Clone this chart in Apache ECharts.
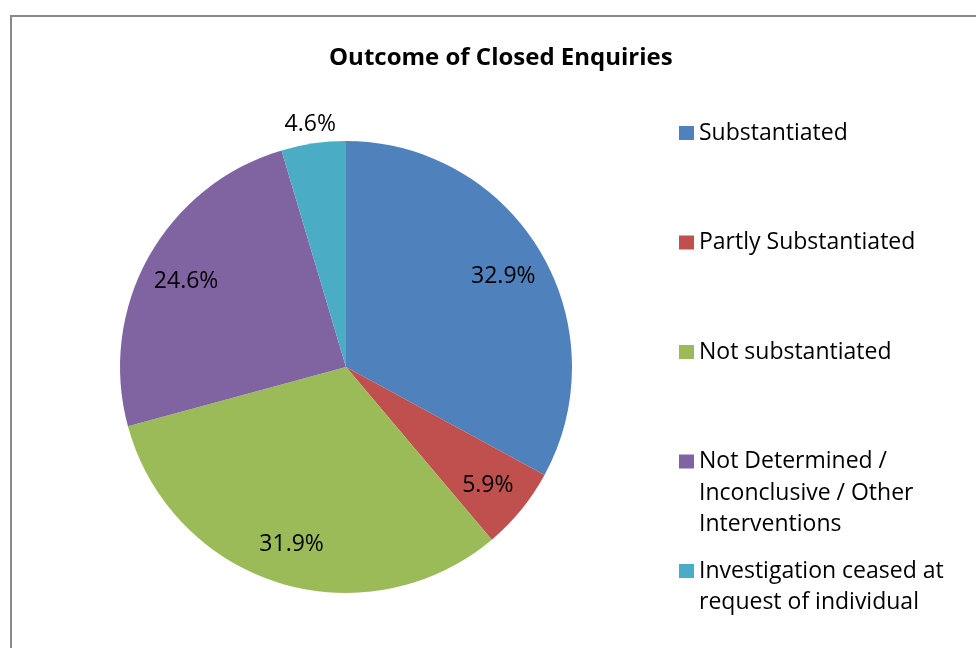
<!DOCTYPE html>
<html>
<head>
<meta charset="utf-8">
<script src="https://cdn.jsdelivr.net/npm/echarts@6/dist/echarts.min.js"></script>
<style>
html,body{margin:0;padding:0;background:#fff;}
#c{width:976px;height:648px;}
</style>
</head>
<body>
<div id="c"></div>
<script>
const titleText = 'Outcome of Closed Enquiries';
const categories = ['Substantiated', 'Partly Substantiated', 'Not substantiated', 'Not Determined / Inconclusive / Other Interventions', 'Investigation ceased at request of individual'];
const legendLines = [
  ['Substantiated'],
  ['Partly Substantiated'],
  ['Not substantiated'],
  ['Not Determined /', 'Inconclusive / Other', 'Interventions'],
  ['Investigation ceased at', 'request of individual']
];
const values = [32.9, 5.9, 31.9, 24.6, 4.6];
const colors = ['#4F81BD', '#C0504D', '#9BBB59', '#8064A2', '#4BACC6'];

const FONT = '"Open Sans", sans-serif';
const FS = 23;
const LH = 31.5;
const markerCenters = [133, 242.5, 352, 461.5, 571];

const chart = echarts.init(document.getElementById('c'), null, {renderer: 'canvas'});

const legends = categories.map((name, i) => {
  const lines = legendLines[i];
  const n = lines.length;
  const text = '\n'.repeat(n - 1) + lines.join('\n');
  const total = (2 * n - 1) * LH;
  return {
    orient: 'vertical',
    left: 679,
    top: markerCenters[i] - total / 2,
    padding: 0,
    itemWidth: 15,
    itemHeight: 14,
    icon: 'rect',
    selectedMode: false,
    data: [name],
    formatter: () => text,
    textStyle: {fontFamily: FONT, fontSize: FS, color: '#000', lineHeight: LH}
  };
});

const mainData = categories.map((name, i) => ({name, value: values[i], itemStyle: {color: colors[i]}}));
const innerLabelData = categories.map((name, i) => ({name, value: values[i], label: {show: i !== 4}}));
const outerLabelData = categories.map((name, i) => ({name, value: values[i], label: {show: i === 4}}));

const overlayBase = {
  type: 'pie',
  center: [346, 367],
  startAngle: 90,
  silent: true,
  animation: false,
  itemStyle: {color: 'rgba(0,0,0,0)'},
  emphasis: {disabled: true},
  labelLine: {show: false},
  labelLayout: {dy: 3},
  label: {position: 'inside', formatter: p => p.value.toFixed(1) + '%', fontFamily: FONT, fontSize: FS, color: '#000'}
};

chart.setOption({
  backgroundColor: '#fff',
  animation: false,
  title: {
    text: titleText,
    left: 329,
    top: 46,
    padding: 0,
    textStyle: {fontFamily: FONT, fontSize: 24, fontWeight: 'bold', color: '#000'}
  },
  legend: legends,
  graphic: [{
    type: 'rect',
    shape: {x: 11, y: 16, width: 1000, height: 700},
    style: {fill: 'none', stroke: '#898989', lineWidth: 2},
    silent: true,
    z: -1
  }],
  series: [
    {
      type: 'pie',
      center: [346, 367],
      radius: [0, 226],
      startAngle: 90,
      animation: false,
      label: {show: false},
      labelLine: {show: false},
      emphasis: {disabled: true},
      data: mainData
    },
    Object.assign({}, overlayBase, {radius: [134, 226], data: innerLabelData}),
    Object.assign({}, overlayBase, {radius: [235, 255], data: outerLabelData})
  ]
});
</script>
</body>
</html>
